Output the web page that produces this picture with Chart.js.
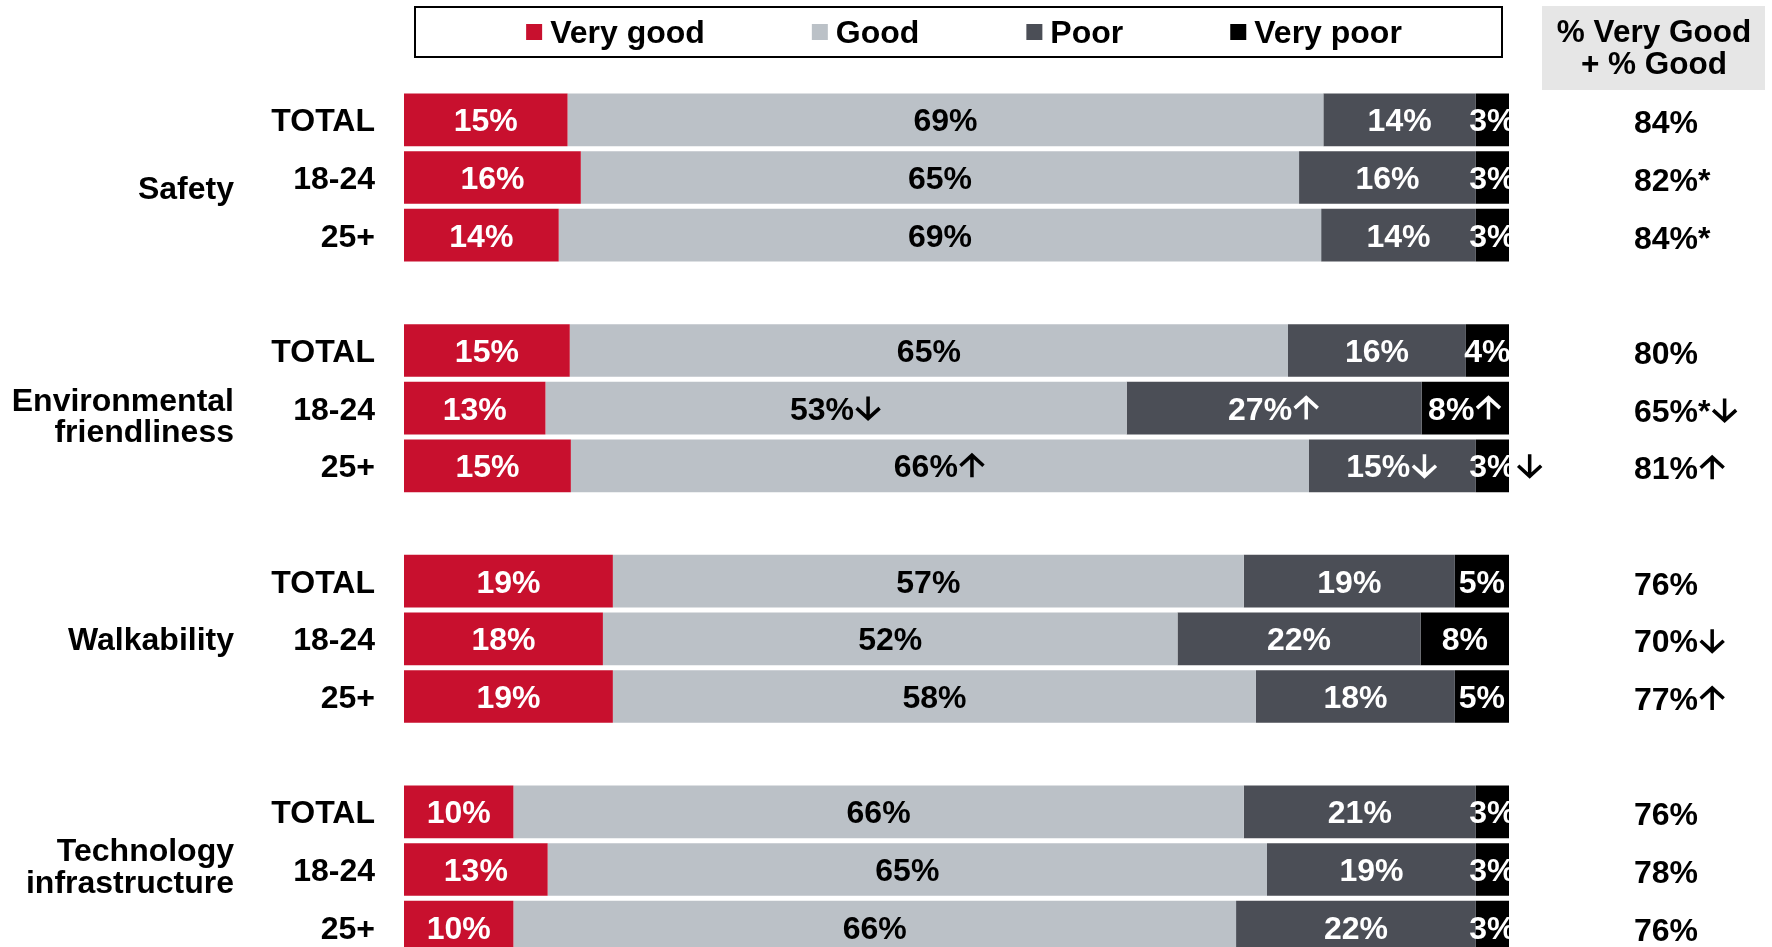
<!DOCTYPE html>
<html>
<head>
<meta charset="utf-8">
<script src="https://cdn.jsdelivr.net/npm/chart.js@4.4.1/dist/chart.umd.min.js"></script>
<style>
html,body{margin:0;padding:0;background:#fff;overflow:hidden;}
#wrap{position:relative;width:1772px;height:947px;overflow:hidden;}
canvas{display:block;}
</style>
</head>
<body>
<div id="wrap"><canvas id="chart" width="1772" height="960"></canvas></div>
<script>
// rows: TOTAL / 18-24 / 25+ for each aspect (bar lengths)
const aspects = [['Safety'], ['Environmental', 'friendliness'], ['Walkability'], ['Technology', 'infrastructure']];
const ageRows = ['TOTAL', '18-24', '25+'];
const veryGood = [14.8, 16.0, 14.0, 15.0, 12.8, 15.1, 18.9, 18.0, 18.9, 9.9, 13.0, 9.9];
const good     = [68.4, 65.0, 69.0, 65.0, 52.6, 66.8, 57.1, 52.0, 58.2, 66.1, 65.1, 65.4];
const poor     = [13.8, 16.0, 14.0, 16.1, 26.7, 15.1, 19.1, 22.0, 18.0, 21.0, 18.9, 21.7];
const veryPoor = [3.0, 3.0, 3.0, 3.9, 7.9, 3.0, 4.9, 8.0, 4.9, 3.0, 3.0, 3.0];

// printed labels
const veryGoodText = ['15%', '16%', '14%', '15%', '13%', '15%', '19%', '18%', '19%', '10%', '13%', '10%'];
const goodText     = ['69%', '65%', '69%', '65%', '53%↓', '66%↑', '57%', '52%', '58%', '66%', '65%', '66%'];
const poorText     = ['14%', '16%', '14%', '16%', '27%↑', '15%↓', '19%', '22%', '18%', '21%', '19%', '22%'];
const veryPoorText = ['3%', '3%', '3%', '4%', '8%↑', '3%↓', '5%', '8%', '5%', '3%', '3%', '3%'];
const netGood      = ['84%', '82%*', '84%*', '80%', '65%*↓', '81%↑', '76%', '70%↓', '77%↑', '76%', '78%', '76%'];

const FONT = '"Liberation Sans", Arial, sans-serif';
const FS = 32;
const COLORS = ['#C8102E', '#BBC1C7', '#4B4E56', '#000000'];
const TEXT_COLORS = ['#fff', '#000', '#fff', '#fff'];
const SERIES = ['Very good', 'Good', 'Poor', 'Very poor'];

// a blank slot between aspects
function spread(arr) {
  const out = [];
  aspects.forEach((a, g) => {
    for (let r = 0; r < ageRows.length; r++) out.push(arr[g * ageRows.length + r]);
    if (g < aspects.length - 1) out.push(null);
  });
  return out;
}
const slotLabels = spread(aspects.flatMap(() => ageRows)).map(v => v || '');
const texts = [veryGoodText, goodText, poorText, veryPoorText].map(spread);
const netSlots = spread(netGood);

function txt(ctx, s, x, y, align, color, size) {
  ctx.font = `bold ${size}px ${FONT}`;
  ctx.textAlign = align;
  ctx.textBaseline = 'alphabetic';
  ctx.fillStyle = color;
  ctx.fillText(s, x, y + size * 0.716 / 2);
}

// thin arrow like the one in the deck, drawn by hand
function drawArrow(ctx, dir, x, base, size, color) {
  const cap = size * 0.72, w = size * 0.82, cx = x + w / 2 + 1;
  const top = base - cap, hw = size * 0.36, hd = size * 0.36;
  ctx.save();
  ctx.strokeStyle = color;
  ctx.lineWidth = size * 0.11;
  ctx.lineCap = 'butt';
  ctx.lineJoin = 'miter';
  ctx.beginPath();
  ctx.moveTo(cx, top); ctx.lineTo(cx, base);
  if (dir === '↑') {
    ctx.moveTo(cx - hw, top + hd); ctx.lineTo(cx, top + 1); ctx.lineTo(cx + hw, top + hd);
  } else {
    ctx.moveTo(cx - hw, base - hd); ctx.lineTo(cx, base - 1); ctx.lineTo(cx + hw, base - hd);
  }
  ctx.stroke();
  ctx.restore();
}

// label with optional trailing arrow, drawn from its left edge
function labelAt(ctx, s, left, y, color, size, arrowColor) {
  ctx.font = `bold ${size}px ${FONT}`;
  const arrow = /[↑↓]$/.test(s) ? s.slice(-1) : '';
  const num = arrow ? s.slice(0, -1) : s;
  const wn = ctx.measureText(num).width;
  const yb = y + size * 0.716 / 2;
  ctx.textAlign = 'left';
  ctx.textBaseline = 'alphabetic';
  ctx.fillStyle = color;
  ctx.fillText(num, left, yb);
  if (arrow) drawArrow(ctx, arrow, left + wn, yb, size, arrowColor(left + wn));
}

function labelWidth(ctx, s, size) {
  ctx.font = `bold ${size}px ${FONT}`;
  const arrow = /[↑↓]$/.test(s);
  const num = arrow ? s.slice(0, -1) : s;
  return { num: ctx.measureText(num).width, arr: arrow ? size * 0.82 + 2 : 0 };
}

const decor = {
  id: 'decor',
  afterDatasetsDraw(chart) {
    const ctx = chart.ctx;
    const area = chart.chartArea;
    const ys = chart.scales.y;
    ctx.save();

    // segment labels
    chart.data.datasets.forEach((ds, di) => {
      chart.getDatasetMeta(di).data.forEach((el, i) => {
        const s = texts[di][i];
        if (!s) return;
        const a = Math.min(el.x, el.base), b = Math.max(el.x, el.base);
        const w = labelWidth(ctx, s, FS);
        const cx = (a + b) / 2;
        let left = cx - (w.num + w.arr) / 2;
        if (w.num + w.arr > b - a) left = cx - w.num / 2;
        labelAt(ctx, s, left, el.y, TEXT_COLORS[di], FS,
          ax => (ax + 2 > area.right ? '#000' : TEXT_COLORS[di]));
      });
    });

    // row labels + net good column
    slotLabels.forEach((lab, i) => {
      if (!lab) return;
      const y = ys.getPixelForValue(i);
      txt(ctx, lab, 375, y, 'right', '#000', FS);
      labelAt(ctx, netSlots[i], 1634, y + 2, '#000', FS, () => '#000');
    });

    // aspect labels
    const shift = [10, 7, 0, -4];
    aspects.forEach((lines, g) => {
      const yMid = ys.getPixelForValue(g * 4 + 1) + shift[g];
      const lh = 31.7;
      lines.forEach((ln, k) => {
        txt(ctx, ln, 234, yMid + (k - (lines.length - 1) / 2) * lh, 'right', '#000', FS);
      });
    });

    // legend box
    ctx.strokeStyle = '#000';
    ctx.lineWidth = 2;
    ctx.strokeRect(415, 7, 1087, 50);
    ctx.font = `bold ${FS}px ${FONT}`;
    const sq = 16, gapIn = 8, gapOut = 107;
    const widths = SERIES.map(s => sq + gapIn + ctx.measureText(s).width);
    const total = widths.reduce((p, c) => p + c, 0) + gapOut * (SERIES.length - 1);
    let lx = 964 - total / 2;
    const ly = 32;
    SERIES.forEach((s, i) => {
      ctx.fillStyle = COLORS[i];
      ctx.fillRect(lx, ly - sq / 2, sq, sq);
      txt(ctx, s, lx + sq + gapIn, ly, 'left', '#000', FS);
      lx += widths[i] + gapOut;
    });

    // header for net column
    ctx.fillStyle = '#E6E6E6';
    ctx.fillRect(1542, 6, 223, 84);
    txt(ctx, '% Very Good', 1654, 31, 'center', '#000', 31.5);
    txt(ctx, '+ % Good', 1654, 63, 'center', '#000', 31.5);

    ctx.restore();
  }
};

new Chart(document.getElementById('chart').getContext('2d'), {
  type: 'bar',
  data: {
    labels: slotLabels,
    datasets: [veryGood, good, poor, veryPoor].map((d, i) => ({
      label: SERIES[i],
      data: spread(d),
      backgroundColor: COLORS[i],
      borderWidth: 0,
      barPercentage: 0.913,
      categoryPercentage: 1
    }))
  },
  options: {
    indexAxis: 'y',
    responsive: false,
    animation: false,
    layout: { padding: { left: 404, right: 263, top: 91, bottom: 4 } },
    scales: {
      x: { stacked: true, min: 0, max: 100, display: false },
      y: { stacked: true, display: false }
    },
    plugins: { legend: { display: false }, tooltip: { enabled: false } }
  },
  plugins: [decor]
});
</script>
</body>
</html>
